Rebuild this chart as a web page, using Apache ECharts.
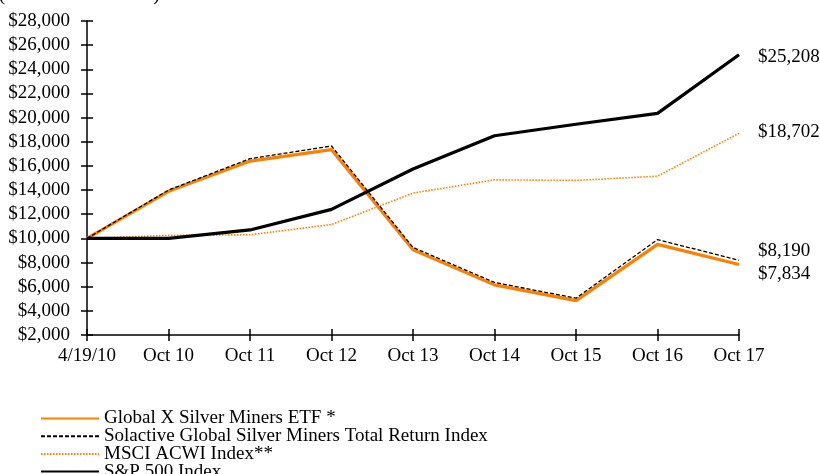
<!DOCTYPE html>
<html><head><meta charset="utf-8">
<script src="https://cdn.jsdelivr.net/npm/echarts@6/dist/echarts.min.js"></script>
<style>html,body{margin:0;padding:0;background:#fff}#c{width:820px;height:474px}</style>
</head><body><div id="c"></div>
<script>
const categories = ['4/19/10','Oct 10','Oct 11','Oct 12','Oct 13','Oct 14','Oct 15','Oct 16','Oct 17'];
const etf = [10000, 13900, 16400, 17350, 9050, 6150, 4850, 9500, 7834];
const solactive = [10000, 14000, 16600, 17650, 9250, 6350, 5050, 9900, 8190];
const msci = [10000, 10250, 10300, 11150, 13750, 14850, 14800, 15150, 18702];
const sp500 = [10000, 10000, 10700, 12400, 15750, 18500, 19450, 20350, 25208];
const seriesNames = ['Global X Silver Miners ETF *','Solactive Global Silver Miners Total Return Index','MSCI ACWI Index**','S&P 500 Index'];

const FONT = 'Liberation Serif';
const FS = 19;
const fmt = v => '$' + Math.round(v).toLocaleString('en-US');
const chart = echarts.init(document.getElementById('c'));
const endLbl = (dy) => ({show:true, formatter: p => fmt(p.value), distance:19, offset:[0,dy], fontFamily:FONT, fontSize:FS, color:'#000'});
chart.setOption({
  animation:false,
  grid:{left:87, right:81, top:21, bottom:139},
  graphic:[{type:'text', x:160, y:-5, style:{text:'(at Net Asset Value)', font:'20px "Liberation Serif"', fill:'#000', textAlign:'right', textVerticalAlign:'middle'}}],
  legend:{orient:'vertical', left:40, top:409, padding:0, width:700, height:80, itemWidth:58, itemHeight:6, itemGap:-1.3,
    itemStyle:{opacity:0},
    textStyle:{fontFamily:FONT, fontSize:FS, color:'#000', lineHeight:17.8},
    data:seriesNames},
  xAxis:[
    {type:'category', data:categories, boundaryGap:false,
     axisLine:{lineStyle:{color:'#000', width:1.5}},
     axisTick:{length:6, lineStyle:{color:'#000', width:1.5}},
     axisLabel:{color:'#000', fontFamily:FONT, fontSize:FS, margin:12}},
    {type:'category', data:categories, boundaryGap:false, position:'bottom',
     axisLine:{show:false}, axisTick:{inside:true, length:6, lineStyle:{color:'#000', width:1.5}}, axisLabel:{show:false}}
  ],
  yAxis:[
    {type:'value', min:2000, max:28000, interval:2000,
     axisLine:{show:true, lineStyle:{color:'#000', width:1.5}},
     axisTick:{show:true, length:6, lineStyle:{color:'#000', width:1.5}},
     splitLine:{show:false},
     axisLabel:{color:'#000', fontFamily:FONT, fontSize:FS, margin:17, formatter: fmt}},
    {type:'value', min:2000, max:28000, interval:2000, position:'left',
     axisLine:{show:false}, axisTick:{show:true, inside:true, length:6, lineStyle:{color:'#000', width:1.5}},
     splitLine:{show:false}, axisLabel:{show:false}}
  ],
  series:[
    {name:seriesNames[0], type:'line', data:etf, symbol:'none', lineStyle:{color:'#FF8000', width:3.2}, itemStyle:{color:'#FF8000'}, endLabel:endLbl(9), z:2},
    {name:seriesNames[1], type:'line', data:solactive, symbol:'none', lineStyle:{color:'#000', width:1.3, type:[4,2]}, itemStyle:{color:'#000'}, endLabel:endLbl(-9), z:3},
    {name:seriesNames[2], type:'line', data:msci, symbol:'none', lineStyle:{color:'#FF8000', width:1.6, type:[1.5,1.5]}, itemStyle:{color:'#FF8000'}, endLabel:endLbl(-1), z:2},
    {name:seriesNames[3], type:'line', data:sp500, symbol:'none', lineStyle:{color:'#000', width:3.2}, itemStyle:{color:'#000'}, endLabel:endLbl(2), z:2}
  ]
});
</script></body></html>
